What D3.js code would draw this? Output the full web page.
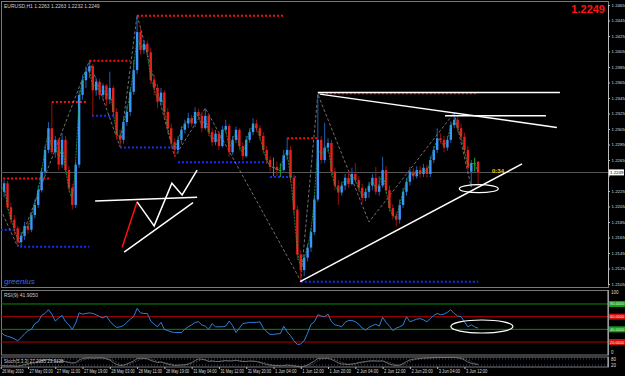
<!DOCTYPE html>
<html><head><meta charset="utf-8">
<script src="https://cdn.jsdelivr.net/npm/d3@7"></script>
<style>body{margin:0;background:#000}svg{display:block}text{font-family:"Liberation Sans",Arial,sans-serif}</style>
</head><body><svg id="c" width="625" height="376"></svg>
<script>
// ---------- DATA ----------
const opens=[1.2229,1.2224,1.2235,1.2204,1.2188,1.2177,1.2159,1.2167,1.2180,1.2175,
1.2194,1.2207,1.2226,1.2250,1.2278,1.2306,1.2275,1.2291,1.2259,1.2291,
1.2252,1.2229,1.2207,1.2259,1.2349,1.2368,1.2379,1.2386,1.2355,1.2366,
1.2349,1.2361,1.2343,1.2358,1.2327,1.2297,1.2291,1.2314,1.2327,1.2353,
1.2381,1.2430,1.2407,1.2415,1.2404,1.2368,1.2358,1.2340,1.2352,1.2327,
1.2306,1.2288,1.2278,1.2291,1.2304,1.2312,1.2319,1.2312,1.2327,1.2322,
1.2306,1.2322,1.2301,1.2288,1.2299,1.2283,1.2304,1.2309,1.2275,1.2291,
1.2304,1.2283,1.2270,1.2291,1.2301,1.2312,1.2306,1.2296,1.2278,1.2265,
1.2256,1.2256,1.2252,1.2252,1.2271,1.2278,1.2242,1.2201,1.2143,1.2123,
1.2139,1.2152,1.2172,1.2214,1.2291,1.2265,1.2281,1.2287,1.2250,1.2232,
1.2223,1.2232,1.2242,1.2234,1.2247,1.2239,1.2229,1.2216,1.2224,1.2232,
1.2242,1.2224,1.2232,1.2252,1.2226,1.2203,1.2193,1.2188,1.2207,1.2224,
1.2237,1.2250,1.2244,1.2252,1.2247,1.2255,1.2247,1.2265,1.2278,1.2293,
1.2291,1.2281,1.2291,1.2310,1.2317,1.2306,1.2295,1.2278,1.2250,1.2261,1.2263];
const highs=[1.2237,1.2239,1.2238,1.2210,1.2194,1.2180,1.2172,1.2185,1.2186,1.2198,
1.2214,1.2232,1.2255,1.2284,1.2314,1.2339,1.2296,1.2293,1.2300,1.2296,
1.2257,1.2234,1.2263,1.2355,1.2375,1.2386,1.2393,1.2389,1.2371,1.2370,
1.2364,1.2363,1.2379,1.2361,1.2332,1.2304,1.2319,1.2335,1.2359,1.2394,
1.2452,1.2435,1.2420,1.2419,1.2410,1.2375,1.2363,1.2358,1.2355,1.2332,
1.2312,1.2293,1.2296,1.2309,1.2317,1.2326,1.2323,1.2333,1.2331,1.2327,
1.2332,1.2324,1.2306,1.2304,1.2303,1.2309,1.2317,1.2312,1.2296,1.2308,
1.2306,1.2288,1.2296,1.2306,1.2319,1.2317,1.2310,1.2301,1.2283,1.2270,
1.2268,1.2263,1.2261,1.2278,1.2293,1.2283,1.2246,1.2206,1.2149,1.2143,
1.2157,1.2177,1.2219,1.2350,1.2296,1.2313,1.2293,1.2291,1.2255,1.2239,
1.2237,1.2247,1.2250,1.2255,1.2261,1.2244,1.2234,1.2229,1.2237,1.2247,
1.2256,1.2244,1.2269,1.2257,1.2232,1.2208,1.2198,1.2214,1.2229,1.2242,
1.2256,1.2255,1.2257,1.2257,1.2260,1.2259,1.2270,1.2283,1.2306,1.2299,
1.2296,1.2296,1.2315,1.2326,1.2322,1.2312,1.2300,1.2283,1.2265,1.2268,1.2263];
const lows=[1.2216,1.2217,1.2201,1.2183,1.2168,1.2153,1.2154,1.2162,1.2170,1.2172,
1.2190,1.2203,1.2223,1.2246,1.2274,1.2272,1.2268,1.2252,1.2255,1.2247,
1.2224,1.2201,1.2203,1.2255,1.2343,1.2358,1.2371,1.2323,1.2348,1.2343,
1.2345,1.2335,1.2337,1.2322,1.2291,1.2282,1.2286,1.2309,1.2322,1.2349,
1.2376,1.2401,1.2402,1.2398,1.2363,1.2349,1.2332,1.2335,1.2319,1.2299,
1.2281,1.2269,1.2273,1.2286,1.2299,1.2306,1.2308,1.2308,1.2317,1.2301,
1.2304,1.2296,1.2283,1.2284,1.2278,1.2281,1.2300,1.2269,1.2272,1.2287,
1.2278,1.2265,1.2268,1.2287,1.2297,1.2301,1.2291,1.2273,1.2260,1.2250,
1.2244,1.2244,1.2243,1.2250,1.2265,1.2237,1.2195,1.2136,1.2109,1.2115,
1.2134,1.2146,1.2168,1.2211,1.2260,1.2261,1.2275,1.2244,1.2226,1.2207,
1.2219,1.2226,1.2229,1.2232,1.2235,1.2224,1.2210,1.2212,1.2216,1.2226,
1.2220,1.2219,1.2229,1.2221,1.2198,1.2188,1.2179,1.2183,1.2203,1.2219,
1.2232,1.2239,1.2241,1.2242,1.2243,1.2242,1.2243,1.2261,1.2274,1.2286,
1.2275,1.2277,1.2287,1.2306,1.2301,1.2290,1.2273,1.2250,1.2230,1.2250,1.2232];
const closes=[1.2224,1.2235,1.2204,1.2188,1.2177,1.2159,1.2167,1.2180,1.2175,1.2194,
1.2207,1.2226,1.2250,1.2278,1.2306,1.2275,1.2291,1.2259,1.2291,1.2252,
1.2229,1.2207,1.2259,1.2349,1.2368,1.2379,1.2386,1.2355,1.2366,1.2349,
1.2361,1.2343,1.2358,1.2327,1.2297,1.2291,1.2314,1.2327,1.2353,1.2381,
1.2430,1.2407,1.2415,1.2404,1.2368,1.2358,1.2340,1.2352,1.2327,1.2306,
1.2288,1.2278,1.2291,1.2304,1.2312,1.2319,1.2312,1.2327,1.2322,1.2306,
1.2322,1.2301,1.2288,1.2299,1.2283,1.2304,1.2309,1.2275,1.2291,1.2304,
1.2283,1.2270,1.2291,1.2301,1.2312,1.2306,1.2296,1.2278,1.2265,1.2256,
1.2256,1.2252,1.2252,1.2271,1.2278,1.2242,1.2201,1.2143,1.2123,1.2139,
1.2152,1.2172,1.2214,1.2291,1.2265,1.2281,1.2287,1.2250,1.2232,1.2223,
1.2232,1.2242,1.2234,1.2247,1.2239,1.2229,1.2216,1.2224,1.2232,1.2242,
1.2224,1.2232,1.2252,1.2226,1.2203,1.2193,1.2188,1.2207,1.2224,1.2237,
1.2250,1.2244,1.2252,1.2247,1.2255,1.2247,1.2265,1.2278,1.2293,1.2291,
1.2281,1.2291,1.2310,1.2317,1.2306,1.2295,1.2278,1.2255,1.2261,1.2261,1.2249];

const rsiValues=[36,31,29,27.5,25,22,27,33,38,40,
49,52,62,65,71,64,53,58,62,52,
47,40,50,66,64,65,66,65,63,60,
58,61,53,47,43,44,46,51,56,60,
73,66,65,65,53,48,44,51,40,38,
36,35,35,35,40,44,47,51,52,47,
45,40,49,44,44,44,45,53,46,35,
42,49,50,51,51,51,52,42,36,32,
32,33,33,45,36,30,22,16,17,22,
34,48,52,63,61,60,64,52,47,46,
44,51,54,54,52,48,42,39,43,46,
48,45,59,51,45,38,42,44,47,60,
52,54,56,57,55,52,57,62,65,63,
64,67,71,65,61,60,52,44,47,44,41.905];

const stochMain=[15,12,10,12,10,8,15,25,30,38,
45,55,65,72,75,65,58,55,60,52,
45,38,45,70,85,90,92,88,90,92,
90,80,70,45,25,15,18,30,45,60,
85,88,85,82,65,55,45,50,38,28,
22,15,18,20,22,30,45,65,80,78,
70,55,60,55,55,60,65,60,62,68,
60,55,55,60,58,55,45,35,25,18,
15,15,12,15,20,15,10,5,3,8,
20,40,60,85,88,85,88,75,60,40,
30,28,25,30,35,45,50,55,60,62,
60,58,62,45,30,20,15,18,35,55,
70,78,82,85,88,90,92,94,95,96,
94,95,96,95,92,85,70,50,35,30,27.2085];
const stochSignal=[18,15,13,11,11,10,11,15,22,30,
37,45,55,64,70,70,66,60,58,56,
52,45,42,52,65,80,88,90,90,90,
90,87,80,65,48,30,20,20,30,45,
62,78,85,85,78,68,55,50,45,38,
30,22,18,18,20,23,32,45,62,74,
76,68,62,57,56,57,60,62,62,63,
63,60,57,57,58,57,53,45,35,26,
20,16,14,14,15,17,15,10,6,5,
10,22,40,62,78,86,87,84,75,58,
45,33,28,28,30,36,43,50,55,59,
61,60,60,55,46,32,22,18,23,36,
53,68,77,82,85,88,90,92,93,95,
95,95,95,95,94,91,83,69,52,38,23.3138];

const priceTicks=[1.2465,1.2445,1.2425,1.2405,1.2385,1.2365,1.2345,1.2325,1.2305,1.2285,1.2265,1.2245,1.2225,1.2205,1.2185,1.2165,1.2145,1.2125,1.2105];
const timeLabels=["26 May 2010","27 May 03:00","27 May 11:00","27 May 19:00","28 May 03:00","28 May 11:00","28 May 19:00","31 May 04:00","31 May 12:00","31 May 20:00","1 Jun 04:00","1 Jun 12:00","1 Jun 20:00","2 Jun 04:00","2 Jun 12:00","2 Jun 20:00","3 Jun 04:00","3 Jun 12:00"];
const timeLabelBars=[0,8,16,24,32,40,48,56,64,72,80,88,96,104,112,120,128,136];
const rsiLevels=[80,60,40,20];
const rsiLevelKinds=["g","r","g","r"];

// support / resistance dotted levels: [price, fromBar, toBar, kind]
const levels=[[1.2241,0.7,14.5,"r"],[1.2175,0,5,"b"],[1.2153,5.7,26,"b"],[1.2340,15,25.3,"r"],
[1.2393,26,38,"r"],[1.2322,26.8,34,"b"],[1.2281,35,51.7,"b"],[1.2451,40,83.4,"r"],
[1.2262,52,78.4,"b"],[1.2293,84,93,"r"],[1.2243,79,87,"b"],[1.2351,93,140,"r"],[1.2108,88,140,"b"]];
// zigzag pivots [bar, price]
const zigzag=[[0,1.2201],[5,1.2153],[26,1.2393],[35,1.2282],[40,1.2452],[51,1.2269],[60,1.2332],[88,1.2109],[93,1.2350],[108,1.2185],[133,1.2326],[138,1.2230]];
// hand-drawn trend lines [bar1, price1, bar2, price2, colour]
const trendLines=[[93,1.2352,164,1.2352,"w"],[93.6,1.2350,163.1,1.2307,"w"],[130.3,1.2322,159.9,1.2322,"w"],
[87.8,1.2108,152.9,1.2260,"w"],[27.7,1.2212,57.6,1.2217,"w"],[35.6,1.2152,40,1.2211,"r"],
[36.2,1.2146,56.4,1.2210,"w"]];
const patternPath=[[40,1.2211],[45,1.2180],[50.2,1.2235],[53.2,1.2220],[57.6,1.2252]];
const ellipseMain=[140.2,1.2228];
const ellipseRsi=[141.1,44.5];
const lastPrice=1.2249;

// ---------- DRAW ----------
const svg=d3.select("#c");
svg.append("rect").attr("width",625).attr("height",376).attr("fill","#000");
const x=d3.scaleLinear().domain([0,140]).range([0.7,478.1]);
const y=d3.scaleLinear().domain([1.2465,1.2105]).range([5,284]);
const yr=d3.scaleLinear().domain([0,100]).range([354.7,291.3]);
const ys=d3.scaleLinear().domain([0,100]).range([367,357]);
const f4=d3.format(".4f");

const defs=svg.append("defs");
defs.append("clipPath").attr("id","mainclip").append("rect").attr("x",1).attr("y",1).attr("width",607).attr("height",286.5);
defs.append("clipPath").attr("id","rsiclip").append("rect").attr("x",1).attr("y",290.5).attr("width",607).attr("height",64);

// panel frames
const frame="#7a7a7a";
[[1.5,1.5,607,286],[1.5,290.5,607,64.5],[1.5,357,607,10]].forEach(r=>{
  svg.append("rect").attr("x",r[0]).attr("y",r[1]).attr("width",r[2]).attr("height",r[3]).attr("fill","none").attr("stroke",frame).attr("stroke-width",1);
});

const main=svg.append("g").attr("clip-path","url(#mainclip)");

// current price line
main.append("line").attr("x1",1).attr("x2",608).attr("y1",Math.round(y(lastPrice))+0.5).attr("y2",Math.round(y(lastPrice))+0.5).attr("stroke","#555").attr("stroke-width",1);

// dotted levels
main.selectAll(".lvl").data(levels).enter().append("line")
  .attr("x1",d=>x(d[1])).attr("x2",d=>x(d[2])).attr("y1",d=>y(d[0])).attr("y2",d=>y(d[0]))
  .attr("stroke",d=>d[3]==="r"?"#ff1010":"#1030ff").attr("stroke-width",2).attr("stroke-dasharray","2,2");

// zigzag
main.append("path").datum(zigzag).attr("fill","none").attr("stroke","#8a8a8a").attr("stroke-width",0.8)
  .attr("stroke-dasharray","3,2").attr("d",d3.line().x(d=>x(d[0])).y(d=>y(d[1])));

// candles
const bars=d3.range(closes.length);
const bw=2.4;
const kind=i=>Math.abs(closes[i]-opens[i])<1e-7?"d":(closes[i]>opens[i]?"u":"n");
const wickCol={u:"#1f5fae",n:"#9a1010",d:"#10b030"};
const bodyCol={u:"#3a95ff",n:"#e8201c",d:"#10b030"};
main.selectAll(".wick").data(bars).enter().append("line")
  .attr("x1",i=>x(i)).attr("x2",i=>x(i)).attr("y1",i=>y(highs[i])).attr("y2",i=>y(lows[i]))
  .attr("stroke",i=>wickCol[kind(i)]).attr("stroke-width",1);
main.selectAll(".body").data(bars).enter().append("rect")
  .attr("x",i=>x(i)-bw/2).attr("width",bw)
  .attr("y",i=>Math.min(y(opens[i]),y(closes[i])))
  .attr("height",i=>Math.max(1,Math.abs(y(opens[i])-y(closes[i]))))
  .attr("fill",i=>bodyCol[kind(i)]);

// green line through closes
main.append("path").datum(bars).attr("fill","none").attr("stroke","#1ea848").attr("stroke-width",0.8)
  .attr("stroke-dasharray","2,1")
  .attr("d",d3.line().x(i=>x(i)).y(i=>y(closes[i])).curve(d3.curveBasis));

// trend lines
main.selectAll(".tl").data(trendLines).enter().append("line")
  .attr("x1",d=>x(d[0])).attr("y1",d=>y(d[1])).attr("x2",d=>x(d[2])).attr("y2",d=>y(d[3]))
  .attr("stroke",d=>d[4]==="r"?"#ff1010":"#ffffff").attr("stroke-width",1.5);
main.append("path").datum(patternPath).attr("fill","none").attr("stroke","#fff").attr("stroke-width",1.5)
  .attr("d",d3.line().x(d=>x(d[0])).y(d=>y(d[1])));
main.append("ellipse").attr("cx",x(ellipseMain[0])).attr("cy",y(ellipseMain[1])).attr("rx",19.5).attr("ry",4)
  .attr("fill","none").attr("stroke","#fff").attr("stroke-width",1.2);

// texts main
svg.append("text").attr("x",4).attr("y",8).attr("font-size",5).attr("fill","#cfcfcf")
  .text("EURUSD,H1  1.2263 1.2263 1.2232 1.2249");
svg.append("text").attr("x",605).attr("y",13).attr("text-anchor","end").attr("font-size",11).attr("font-weight","bold").attr("fill","#ff1414")
  .text(f4(lastPrice));
svg.append("text").attr("x",492).attr("y",173).attr("font-size",6).attr("font-weight","bold").attr("fill","#f0c800").text("0:34");
svg.append("text").attr("x",4).attr("y",284).attr("font-size",8).attr("font-style","italic").attr("font-family","DejaVu Serif").attr("fill","#3a6ee0").text("greenius");

// price axis
const ax=svg.append("g").attr("transform","translate(608,0)")
  .call(d3.axisRight(y).tickValues(priceTicks).tickFormat(f4).tickSize(2).tickPadding(1.5));
ax.select(".domain").attr("stroke","#bdbdbd");
ax.selectAll(".tick line").attr("stroke","#bdbdbd");
ax.selectAll("text").attr("font-size",4.4).attr("fill","#dcdcdc").attr("font-family","Liberation Sans, Arial")
  .attr("opacity",d=>Math.abs(d-lastPrice)<0.0008?0:1);
// current price box
svg.append("rect").attr("x",609).attr("y",y(lastPrice)-3).attr("width",15).attr("height",6).attr("fill","#fff");
svg.append("text").attr("x",610).attr("y",y(lastPrice)+1.6).attr("font-size",4.4).attr("fill","#000").text(f4(lastPrice));

// RSI panel
const rg=svg.append("g").attr("clip-path","url(#rsiclip)");
rg.selectAll(".rl").data(rsiLevels).enter().append("line")
  .attr("x1",1).attr("x2",608).attr("y1",d=>yr(d)).attr("y2",d=>yr(d))
  .attr("stroke",(d,i)=>rsiLevelKinds[i]==="g"?"#0a8a0a":"#b00000").attr("stroke-width",1);
rg.append("path").datum(bars).attr("fill","none").attr("stroke","#2f7fd6").attr("stroke-width",1)
  .attr("d",d3.line().x(i=>x(i)).y(i=>yr(rsiValues[i])));
rg.append("ellipse").attr("cx",x(ellipseRsi[0])).attr("cy",yr(ellipseRsi[1])).attr("rx",31).attr("ry",6.5)
  .attr("fill","none").attr("stroke","#fff").attr("stroke-width",1.2);
svg.append("text").attr("x",4).attr("y",297).attr("font-size",5).attr("fill","#cfcfcf").text("RSI(9) 41.9050");
svg.append("line").attr("x1",608).attr("x2",608).attr("y1",290.5).attr("y2",355).attr("stroke","#bdbdbd");
svg.append("text").attr("x",611).attr("y",yr(100)+3).attr("font-size",4.5).attr("fill","#dcdcdc").text("100");
svg.append("text").attr("x",611).attr("y",yr(0)-1).attr("font-size",4.5).attr("fill","#dcdcdc").text("0");
rsiLevels.forEach((v,i)=>{
  svg.append("rect").attr("x",609).attr("y",yr(v)-3).attr("width",16).attr("height",6).attr("fill",rsiLevelKinds[i]==="g"?"#12a012":"#d01010");
  svg.append("text").attr("x",610).attr("y",yr(v)+1.5).attr("font-size",3.9).attr("fill","#f0f0f0").text(f4(v));
});

// Stoch panel
[80,20].forEach(v=>{
  svg.append("line").attr("x1",1).attr("x2",608).attr("y1",ys(v)).attr("y2",ys(v)).attr("stroke","#4a5a9a").attr("stroke-width",0.8).attr("stroke-dasharray","1,2");
});
svg.append("path").datum(bars).attr("fill","none").attr("stroke","#8a8a8a").attr("stroke-width",0.8)
  .attr("d",d3.line().x(i=>x(i)).y(i=>ys(stochMain[i])));
svg.append("path").datum(bars).attr("fill","none").attr("stroke","#6a6a6a").attr("stroke-width",0.8).attr("stroke-dasharray","1.5,1.5")
  .attr("d",d3.line().x(i=>x(i)).y(i=>ys(stochSignal[i])));
svg.append("text").attr("x",4).attr("y",362.5).attr("font-size",4.5).attr("fill","#cfcfcf").text("Stoch(5,3,3) 27.2085 23.3138");
svg.append("line").attr("x1",608).attr("x2",608).attr("y1",357).attr("y2",367).attr("stroke","#bdbdbd");
svg.append("text").attr("x",611).attr("y",ys(80)+1.8).attr("font-size",4.5).attr("fill","#dcdcdc").text("80");
svg.append("text").attr("x",611).attr("y",ys(20)+1.8).attr("font-size",4.5).attr("fill","#dcdcdc").text("20");

// time axis
const tx=svg.append("g").attr("transform","translate(0,367)")
  .call(d3.axisBottom(x).tickValues(timeLabelBars).tickFormat((d,i)=>timeLabels[i]).tickSize(2).tickPadding(1));
tx.select(".domain").remove();
tx.selectAll(".tick line").attr("stroke","#bdbdbd");
tx.selectAll("text").attr("text-anchor","start").attr("dx",1).attr("font-size",4.5).attr("fill","#dcdcdc").attr("font-family","Liberation Sans, Arial")
  .attr("textLength",(d,i)=>timeLabels[i].length*1.95).attr("lengthAdjust","spacingAndGlyphs");
</script></body></html>
